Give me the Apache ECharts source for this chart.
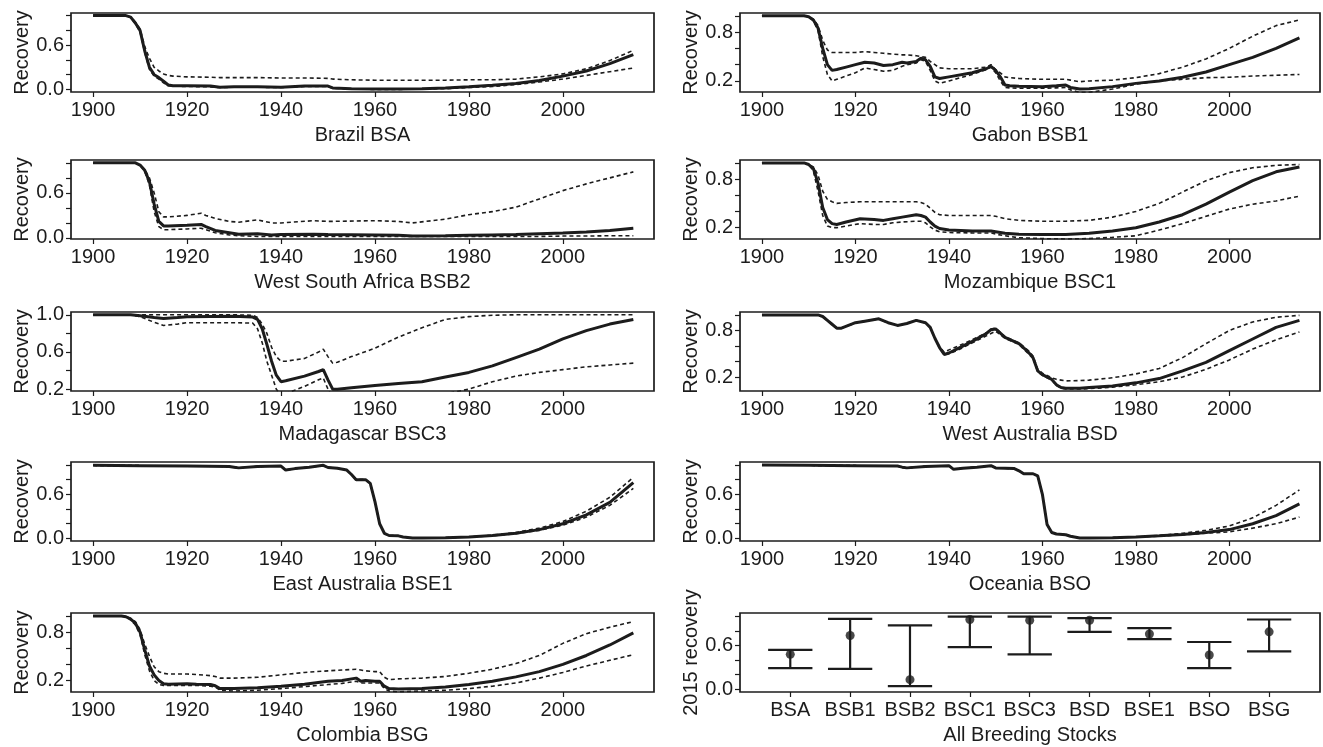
<!DOCTYPE html>
<html>
<head>
<meta charset="utf-8">
<title>Recovery by breeding stock</title>
<script src="https://cdn.jsdelivr.net/npm/echarts@6/dist/echarts.min.js"></script>
<style>
  html, body { margin: 0; padding: 0; background: #fff; }
  #chart { width: 1323px; height: 747px; }
</style>
</head>
<body>
<div id="chart"></div>
<script>
// median (solid) and lower / upper bounds (dashed)

const bsaYears = [1900, 1907, 1908, 1909, 1910, 1911, 1912, 1913, 1914, 1915, 1916, 1917, 1920, 1925, 1927, 1930, 1935, 1940, 1945, 1950, 1951, 1955, 1960, 1965, 1970, 1975, 1980, 1985, 1990, 1995, 2000, 2005, 2010, 2015]
const bsaMed = [1.0, 1.0, 0.98, 0.9, 0.8, 0.52, 0.3, 0.2, 0.16, 0.11, 0.06, 0.05, 0.05, 0.045, 0.03, 0.035, 0.035, 0.03, 0.045, 0.045, 0.02, 0.01, 0.005, 0.005, 0.01, 0.02, 0.035, 0.055, 0.08, 0.12, 0.18, 0.25, 0.35, 0.47]
const bsaHi = [1.0, 1.0, 0.98, 0.91, 0.82, 0.58, 0.42, 0.3, 0.25, 0.21, 0.19, 0.18, 0.17, 0.165, 0.16, 0.16, 0.16, 0.155, 0.155, 0.15, 0.14, 0.13, 0.125, 0.125, 0.125, 0.125, 0.13, 0.13, 0.14, 0.17, 0.21, 0.28, 0.39, 0.53]
const bsaLo = [1.0, 1.0, 0.98, 0.89, 0.78, 0.5, 0.27, 0.18, 0.14, 0.09, 0.05, 0.045, 0.04, 0.035, 0.025, 0.03, 0.03, 0.025, 0.04, 0.04, 0.015, 0.005, 0, 0, 0.005, 0.01, 0.025, 0.04, 0.065, 0.1, 0.14, 0.19, 0.24, 0.29]

const bsb1Years = [1900, 1909, 1910, 1911, 1912, 1913, 1914, 1915, 1916, 1918, 1920, 1922, 1924, 1926, 1928, 1930, 1931, 1933, 1934, 1935, 1936, 1937, 1938, 1940, 1945, 1948, 1949, 1950, 1951, 1952, 1953, 1955, 1960, 1963, 1965, 1966, 1968, 1970, 1975, 1980, 1985, 1990, 1995, 2000, 2005, 2010, 2015]
const bsb1Med = [1.0, 1.0, 0.99, 0.95, 0.85, 0.6, 0.4, 0.33, 0.34, 0.37, 0.4, 0.43, 0.42, 0.39, 0.4, 0.43, 0.42, 0.44, 0.48, 0.46, 0.38, 0.25, 0.23, 0.25, 0.3, 0.35, 0.38, 0.33, 0.25, 0.15, 0.14, 0.135, 0.13, 0.14, 0.15, 0.12, 0.1, 0.105, 0.13, 0.17, 0.2, 0.245, 0.31, 0.4, 0.49, 0.6, 0.73]
const bsb1Hi = [1.0, 1.0, 0.99, 0.96, 0.88, 0.7, 0.58, 0.55, 0.55, 0.55, 0.55, 0.56, 0.55, 0.54, 0.53, 0.52, 0.52, 0.51, 0.5, 0.49, 0.44, 0.4, 0.36, 0.35, 0.35, 0.37, 0.4, 0.34, 0.3, 0.25, 0.24, 0.23, 0.22, 0.22, 0.22, 0.21, 0.19, 0.2, 0.21, 0.24, 0.29, 0.37, 0.47, 0.6, 0.75, 0.88, 0.95]
const bsb1Lo = [1.0, 1.0, 0.99, 0.94, 0.82, 0.5, 0.28, 0.2, 0.22, 0.26, 0.3, 0.36, 0.34, 0.32, 0.33, 0.38, 0.4, 0.42, 0.46, 0.44, 0.33, 0.2, 0.17, 0.2, 0.28, 0.34, 0.37, 0.3, 0.2, 0.12, 0.115, 0.11, 0.11, 0.115, 0.12, 0.09, 0.06, 0.06, 0.1, 0.16, 0.2, 0.22, 0.24, 0.245, 0.26, 0.27, 0.28]

const bsb2Years = [1900, 1909, 1910, 1911, 1912, 1913, 1914, 1915, 1916, 1920, 1923, 1924, 1926, 1929, 1931, 1935, 1938, 1940, 1947, 1950, 1960, 1965, 1968, 1975, 1980, 1985, 1990, 1995, 2000, 2005, 2010, 2015]
const bsb2Med = [1.0, 1.0, 0.97, 0.9, 0.75, 0.45, 0.22, 0.16, 0.16, 0.17, 0.18, 0.15, 0.1, 0.07, 0.05, 0.055, 0.04, 0.045, 0.05, 0.045, 0.04, 0.035, 0.025, 0.03, 0.035, 0.04, 0.045, 0.055, 0.065, 0.08, 0.1, 0.13]
const bsb2Hi = [1.0, 1.0, 0.97, 0.91, 0.8, 0.6, 0.35, 0.28, 0.28, 0.3, 0.33, 0.3, 0.26, 0.22, 0.21, 0.24, 0.2, 0.2, 0.23, 0.22, 0.23, 0.22, 0.2, 0.25, 0.31, 0.35, 0.41, 0.52, 0.63, 0.72, 0.8, 0.88]
const bsb2Lo = [1.0, 1.0, 0.97, 0.89, 0.7, 0.35, 0.15, 0.11, 0.11, 0.12, 0.13, 0.11, 0.07, 0.04, 0.03, 0.02, 0.02, 0.02, 0.02, 0.02, 0.02, 0.02, 0.02, 0.02, 0.02, 0.02, 0.02, 0.02, 0.025, 0.025, 0.03, 0.03]

const bsc1Years = [1900, 1909, 1910, 1911, 1912, 1913, 1914, 1915, 1916, 1918, 1921, 1924, 1926, 1928, 1930, 1933, 1934, 1935, 1936, 1937, 1938, 1940, 1945, 1949, 1950, 1952, 1955, 1960, 1965, 1970, 1975, 1980, 1985, 1990, 1995, 2000, 2005, 2010, 2015]
const bsc1Med = [1.0, 1.0, 0.98, 0.93, 0.75, 0.45, 0.3, 0.25, 0.24, 0.27, 0.31, 0.3, 0.29, 0.31, 0.33, 0.36, 0.35, 0.33, 0.27, 0.22, 0.19, 0.17, 0.16, 0.16, 0.15, 0.13, 0.12, 0.115, 0.115, 0.13, 0.16, 0.2, 0.27, 0.36, 0.49, 0.64, 0.78, 0.89, 0.95]
const bsc1Hi = [1.0, 1.0, 0.98, 0.95, 0.85, 0.65, 0.55, 0.52, 0.5, 0.51, 0.52, 0.52, 0.52, 0.52, 0.52, 0.52, 0.51, 0.49, 0.44, 0.39, 0.36, 0.35, 0.35, 0.35, 0.34, 0.31, 0.29, 0.28, 0.28, 0.29, 0.33, 0.4, 0.5, 0.64, 0.78, 0.88, 0.94, 0.97, 0.98]
const bsc1Lo = [1.0, 1.0, 0.98, 0.9, 0.65, 0.35, 0.22, 0.2, 0.2, 0.22, 0.25, 0.24, 0.24, 0.26, 0.27, 0.28, 0.28, 0.26, 0.21, 0.17, 0.15, 0.14, 0.135, 0.135, 0.12, 0.1, 0.075, 0.065, 0.06, 0.065, 0.08, 0.1, 0.17, 0.25, 0.34, 0.43, 0.49, 0.53, 0.59]

const bsc3Years = [1900, 1908, 1910, 1913, 1915, 1918, 1920, 1930, 1934, 1935, 1936, 1937, 1938, 1939, 1940, 1941, 1945, 1948, 1949, 1950, 1951, 1952, 1955, 1960, 1965, 1970, 1975, 1980, 1985, 1990, 1995, 2000, 2005, 2010, 2015]
const bsc3Med = [1.0, 1.0, 0.99, 0.97, 0.96, 0.97, 0.98, 0.985, 0.975, 0.95, 0.85, 0.68, 0.5, 0.35, 0.28, 0.29, 0.34, 0.39, 0.41, 0.3, 0.2, 0.2, 0.215, 0.24, 0.26, 0.28, 0.33, 0.38, 0.45, 0.54, 0.63, 0.74, 0.83, 0.9, 0.95]
const bsc3Hi = [1.0, 1.0, 1.0, 1.0, 1.0, 1.0, 1.0, 1.0, 0.995, 0.97, 0.9, 0.8, 0.65, 0.55, 0.5, 0.5, 0.53, 0.6, 0.63, 0.55, 0.48, 0.49, 0.55, 0.64, 0.76, 0.86, 0.95, 0.98, 0.995, 1.0, 1.0, 1.0, 1.0, 1.0, 1.0]
const bsc3Lo = [1.0, 1.0, 0.98, 0.92, 0.885, 0.9, 0.915, 0.915, 0.91, 0.85, 0.7, 0.5, 0.35, 0.2, 0.13, 0.15, 0.23, 0.3, 0.32, 0.2, 0.1, 0.08, 0.08, 0.08, 0.1, 0.12, 0.15, 0.2, 0.28, 0.34, 0.38, 0.41, 0.44, 0.46, 0.48]

const bsdYears = [1900, 1912, 1913, 1914, 1915, 1916, 1917, 1920, 1922, 1925, 1927, 1929, 1931, 1933, 1935, 1936, 1937, 1938, 1939, 1940, 1942, 1945, 1948, 1949, 1950, 1952, 1955, 1957, 1958, 1959, 1960, 1962, 1963, 1964, 1965, 1968, 1970, 1975, 1980, 1985, 1990, 1995, 2000, 2005, 2010, 2015]
const bsdMed = [1.0, 1.0, 0.98, 0.93, 0.88, 0.83, 0.83, 0.9, 0.92, 0.95, 0.9, 0.865, 0.89, 0.93, 0.9, 0.84, 0.7, 0.58, 0.49, 0.51, 0.57, 0.66, 0.76, 0.81, 0.82, 0.71, 0.63, 0.52, 0.45, 0.28, 0.23, 0.17, 0.1, 0.065, 0.055, 0.055, 0.065, 0.085, 0.125, 0.18, 0.28, 0.39, 0.54, 0.69, 0.84, 0.93]
const bsdHi = [1.0, 1.0, 0.98, 0.93, 0.88, 0.83, 0.83, 0.9, 0.92, 0.95, 0.9, 0.865, 0.89, 0.93, 0.9, 0.84, 0.7, 0.59, 0.52, 0.55, 0.6, 0.68, 0.77, 0.82, 0.83, 0.72, 0.64, 0.54, 0.47, 0.3, 0.25, 0.19, 0.17, 0.16, 0.15, 0.155, 0.16, 0.19, 0.24, 0.31, 0.45, 0.63, 0.8, 0.91, 0.97, 0.995]
const bsdLo = [1.0, 1.0, 0.98, 0.93, 0.88, 0.83, 0.83, 0.9, 0.92, 0.95, 0.9, 0.865, 0.89, 0.93, 0.9, 0.84, 0.7, 0.57, 0.49, 0.5, 0.55, 0.64, 0.73, 0.76, 0.79, 0.7, 0.62, 0.5, 0.44, 0.27, 0.22, 0.16, 0.09, 0.055, 0.045, 0.045, 0.05, 0.07, 0.1, 0.14, 0.2, 0.3, 0.42, 0.56, 0.68, 0.78]

const bse1Years = [1900, 1910, 1920, 1929, 1930, 1931, 1935, 1940, 1941, 1943, 1946, 1949, 1950, 1952, 1954, 1955, 1956, 1958, 1959, 1960, 1961, 1962, 1963, 1965, 1966, 1968, 1970, 1975, 1980, 1985, 1990, 1995, 2000, 2005, 2010, 2015]
const bse1Med = [0.995, 0.99, 0.985, 0.98, 0.97, 0.96, 0.98, 0.985, 0.93, 0.95, 0.97, 0.995, 0.965, 0.955, 0.93, 0.87, 0.8, 0.8, 0.75, 0.5, 0.2, 0.07, 0.04, 0.035, 0.02, 0.005, 0.005, 0.01, 0.02, 0.04, 0.07, 0.12, 0.2, 0.32, 0.49, 0.76]
const bse1Hi = [0.995, 0.99, 0.985, 0.98, 0.97, 0.96, 0.98, 0.985, 0.93, 0.95, 0.97, 0.995, 0.965, 0.955, 0.93, 0.87, 0.8, 0.8, 0.75, 0.5, 0.2, 0.07, 0.04, 0.035, 0.02, 0.005, 0.005, 0.01, 0.02, 0.045, 0.08, 0.14, 0.23, 0.37, 0.56, 0.83]
const bse1Lo = [0.995, 0.99, 0.985, 0.98, 0.97, 0.96, 0.98, 0.985, 0.93, 0.95, 0.97, 0.995, 0.965, 0.955, 0.93, 0.87, 0.8, 0.8, 0.75, 0.5, 0.2, 0.07, 0.04, 0.035, 0.02, 0.005, 0.005, 0.01, 0.02, 0.035, 0.065, 0.11, 0.18, 0.29, 0.45, 0.68]

const bsoYears = [1900, 1910, 1920, 1929, 1930, 1931, 1935, 1940, 1941, 1943, 1946, 1949, 1950, 1952, 1954, 1955, 1956, 1958, 1959, 1960, 1961, 1962, 1963, 1965, 1966, 1968, 1970, 1975, 1980, 1985, 1990, 1995, 2000, 2005, 2010, 2015]
const bsoMed = [1.0, 0.995, 0.99, 0.985, 0.97, 0.96, 0.98, 0.99, 0.94, 0.955, 0.97, 0.99, 0.96, 0.955, 0.95, 0.92, 0.88, 0.88, 0.85, 0.6, 0.19, 0.08, 0.06, 0.05, 0.03, 0.005, 0.005, 0.01, 0.02, 0.035, 0.055, 0.08, 0.12, 0.2, 0.31, 0.47]
const bsoHi = [1.0, 0.995, 0.99, 0.985, 0.97, 0.96, 0.98, 0.99, 0.94, 0.955, 0.97, 0.99, 0.96, 0.955, 0.95, 0.92, 0.88, 0.88, 0.85, 0.6, 0.19, 0.08, 0.06, 0.05, 0.03, 0.005, 0.005, 0.01, 0.02, 0.04, 0.07, 0.11, 0.17, 0.28, 0.45, 0.66]
const bsoLo = [1.0, 0.995, 0.99, 0.985, 0.97, 0.96, 0.98, 0.99, 0.94, 0.955, 0.97, 0.99, 0.96, 0.955, 0.95, 0.92, 0.88, 0.88, 0.85, 0.6, 0.19, 0.08, 0.06, 0.05, 0.03, 0.005, 0.005, 0.01, 0.02, 0.03, 0.05, 0.07, 0.09, 0.14, 0.2, 0.29]

const bsgYears = [1900, 1906, 1907, 1908, 1909, 1910, 1911, 1912, 1913, 1914, 1915, 1916, 1920, 1922, 1925, 1926, 1927, 1930, 1935, 1940, 1945, 1950, 1953, 1956, 1957, 1958, 1960, 1961, 1962, 1963, 1965, 1970, 1975, 1980, 1985, 1990, 1995, 2000, 2005, 2010, 2015]
const bsgMed = [1.0, 1.0, 0.99, 0.96, 0.91, 0.8, 0.58, 0.38, 0.27, 0.2, 0.16, 0.155, 0.16, 0.155, 0.15, 0.135, 0.1, 0.1, 0.11, 0.13, 0.155, 0.19, 0.2, 0.23, 0.19, 0.2, 0.19, 0.19, 0.13, 0.1, 0.095, 0.1, 0.12, 0.15, 0.19, 0.245, 0.31, 0.4, 0.51, 0.64, 0.79]
const bsgHi = [1.0, 1.0, 0.99, 0.97, 0.93, 0.83, 0.65, 0.5, 0.37, 0.31, 0.29, 0.28, 0.28, 0.275, 0.26, 0.25, 0.23, 0.23, 0.24, 0.27, 0.3, 0.32, 0.33, 0.34, 0.33, 0.32, 0.31, 0.31, 0.24, 0.21, 0.22, 0.23, 0.25, 0.29, 0.34, 0.41, 0.51, 0.66, 0.78, 0.86, 0.93]
const bsgLo = [1.0, 1.0, 0.99, 0.95, 0.89, 0.77, 0.52, 0.32, 0.2, 0.15, 0.14, 0.14, 0.14, 0.14, 0.13, 0.12, 0.08, 0.07, 0.08, 0.1, 0.125, 0.15, 0.165, 0.19, 0.17, 0.17, 0.17, 0.17, 0.1, 0.07, 0.06, 0.07, 0.08, 0.1, 0.13, 0.17, 0.23, 0.3, 0.38, 0.45, 0.52]

// last panel: 2015 recovery with interval, per stock
const stockNames = ['BSA', 'BSB1', 'BSB2', 'BSC1', 'BSC3', 'BSD', 'BSE1', 'BSO', 'BSG']
const rec2015 = [0.48, 0.74, 0.13, 0.96, 0.95, 0.95, 0.76, 0.47, 0.79]
const rec2015Lo = [0.29, 0.28, 0.04, 0.58, 0.48, 0.79, 0.69, 0.29, 0.52]
const rec2015Hi = [0.54, 0.97, 0.88, 1.0, 1.0, 0.98, 0.84, 0.65, 0.96]

const yearTicks = [1900, 1920, 1940, 1960, 1980, 2000]

const panels = [
  { title: 'Brazil BSA', years: bsaYears, med: bsaMed, lo: bsaLo, hi: bsaHi, ymin: -0.035, ymax: 1.035, labels: [0, 0.6] },
  { title: 'Gabon BSB1', years: bsb1Years, med: bsb1Med, lo: bsb1Lo, hi: bsb1Hi, ymin: 0.064, ymax: 1.035, labels: [0.2, 0.8] },
  { title: 'West South Africa BSB2', years: bsb2Years, med: bsb2Med, lo: bsb2Lo, hi: bsb2Hi, ymin: -0.014, ymax: 1.038, labels: [0, 0.6] },
  { title: 'Mozambique BSC1', years: bsc1Years, med: bsc1Med, lo: bsc1Lo, hi: bsc1Hi, ymin: 0.06, ymax: 1.036, labels: [0.2, 0.8] },
  { title: 'Madagascar BSC3', years: bsc3Years, med: bsc3Med, lo: bsc3Lo, hi: bsc3Hi, ymin: 0.18, ymax: 1.03, labels: [0.2, 0.6, 1.0] },
  { title: 'West Australia BSD', years: bsdYears, med: bsdMed, lo: bsdLo, hi: bsdHi, ymin: 0.02, ymax: 1.038, labels: [0.2, 0.8] },
  { title: 'East Australia BSE1', years: bse1Years, med: bse1Med, lo: bse1Lo, hi: bse1Hi, ymin: -0.035, ymax: 1.04, labels: [0, 0.6] },
  { title: 'Oceania BSO', years: bsoYears, med: bsoMed, lo: bsoLo, hi: bsoHi, ymin: -0.035, ymax: 1.04, labels: [0, 0.6] },
  { title: 'Colombia BSG', years: bsgYears, med: bsgMed, lo: bsgLo, hi: bsgHi, ymin: 0.058, ymax: 1.036, labels: [0.2, 0.8] }
]

const ink = '#1c1c1c'
const font = "'Liberation Sans', Arial, sans-serif"
const colLeft = [71, 740]
const colWidth = [583, 580]
const rowTop = [13, 160, 312, 462, 613]
const boxH = 79

const grids = []
const xAxes = []
const yAxes = []
const series = []

const zip = (xs, ys) => xs.map((x, k) => [x, ys[k]])
const yTicksFor = (lo, hi) => [0, 0.2, 0.4, 0.6, 0.8, 1.0].filter(v => v >= lo && v <= hi)

function makeGrid(i) {
  const col = i % 2
  const row = Math.floor(i / 2)
  return {
    left: colLeft[col], top: rowTop[row], width: colWidth[col], height: boxH,
    show: true, borderColor: ink, borderWidth: 1.7, backgroundColor: 'transparent'
  }
}

function makeX(i, title, min, max, ticks, fmt) {
  return {
    type: 'value', gridIndex: i, min: min, max: max,
    name: title, nameLocation: 'middle', nameGap: 33,
    nameTextStyle: { color: ink, fontSize: 20, fontFamily: font },
    axisLine: { show: false, onZero: false },
    axisTick: { show: true, length: 5, lineStyle: { color: ink, width: 1.2 }, customValues: ticks },
    axisLabel: { color: ink, fontSize: 20, fontFamily: font, margin: 8, customValues: ticks, formatter: fmt },
    splitLine: { show: false }
  }
}

function makeY(i, name, min, max, labels, gap) {
  return {
    type: 'value', gridIndex: i, min: min, max: max,
    name: name, nameLocation: 'middle', nameGap: gap,
    nameTextStyle: { color: ink, fontSize: 20, fontFamily: font },
    axisLine: { show: false, onZero: false },
    axisTick: { show: true, length: 5, lineStyle: { color: ink, width: 1.2 }, customValues: yTicksFor(min, max) },
    axisLabel: { color: ink, fontSize: 20, fontFamily: font, margin: 7, customValues: labels, formatter: v => v.toFixed(1) },
    splitLine: { show: false }
  }
}

panels.forEach((p, i) => {
  grids.push(makeGrid(i))
  xAxes.push(makeX(i, p.title, 1895.3, 2019.4, yearTicks, v => String(Math.round(v))))
  yAxes.push(makeY(i, 'Recovery', p.ymin, p.ymax, p.labels, 38))
  const dashed = { color: ink, width: 1.6, type: [4, 3] }
  series.push(
    { type: 'line', xAxisIndex: i, yAxisIndex: i, data: zip(p.years, p.hi), showSymbol: false, symbol: 'none', lineStyle: dashed, silent: true },
    { type: 'line', xAxisIndex: i, yAxisIndex: i, data: zip(p.years, p.lo), showSymbol: false, symbol: 'none', lineStyle: dashed, silent: true },
    { type: 'line', xAxisIndex: i, yAxisIndex: i, data: zip(p.years, p.med), showSymbol: false, symbol: 'none', lineStyle: { color: ink, width: 3 }, silent: true }
  )
})

// summary panel
const last = panels.length
const capHalf = 0.37
grids.push(makeGrid(last))
xAxes.push(makeX(last, 'All Breeding Stocks', 0.16, 9.85, stockNames.map((s, k) => k + 1), v => stockNames[Math.round(v) - 1] || ''))
yAxes.push(makeY(last, '2015 recovery', -0.04, 1.05, [0, 0.6], 30))

series.push({
  type: 'custom',
  xAxisIndex: last, yAxisIndex: last,
  data: stockNames.map((s, k) => [k + 1, rec2015Lo[k], rec2015Hi[k]]),
  encode: { x: 0, y: [1, 2] },
  silent: true,
  renderItem: (params, api) => {
    const x = api.value(0)
    const lo = api.coord([x, api.value(1)])
    const hi = api.coord([x, api.value(2)])
    const half = api.size([capHalf, 0])[0]
    const style = { stroke: ink, lineWidth: 2.2, fill: null }
    return {
      type: 'group',
      children: [
        { type: 'line', shape: { x1: lo[0], y1: lo[1], x2: hi[0], y2: hi[1] }, style: style },
        { type: 'line', shape: { x1: lo[0] - half, y1: lo[1], x2: lo[0] + half, y2: lo[1] }, style: style },
        { type: 'line', shape: { x1: hi[0] - half, y1: hi[1], x2: hi[0] + half, y2: hi[1] }, style: style }
      ]
    }
  }
})
series.push({
  type: 'scatter',
  xAxisIndex: last, yAxisIndex: last,
  data: stockNames.map((s, k) => [k + 1, rec2015[k]]),
  symbol: 'circle', symbolSize: 9,
  itemStyle: { color: ink },
  silent: true
})

const chart = echarts.init(document.getElementById('chart'), null, { renderer: 'canvas' })
chart.setOption({
  animation: false,
  backgroundColor: '#ffffff',
  textStyle: { fontFamily: font },
  grid: grids,
  xAxis: xAxes,
  yAxis: yAxes,
  series: series
})

window.addEventListener('resize', () => chart.resize())
</script>
</body>
</html>
